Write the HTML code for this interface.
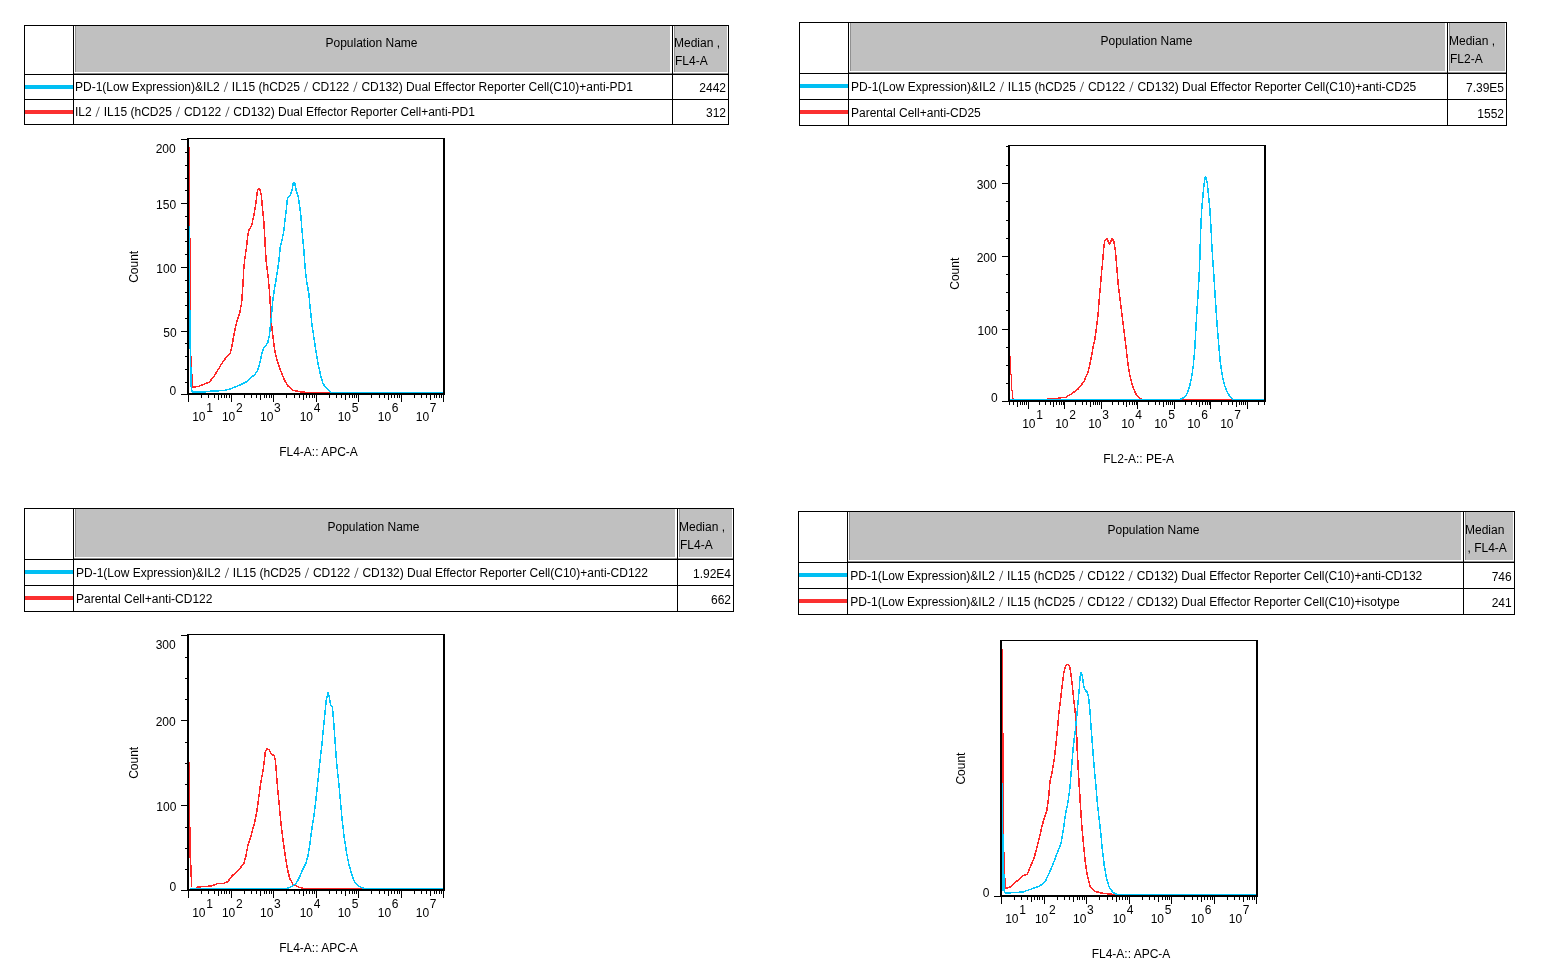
<!DOCTYPE html>
<html lang="en"><head><meta charset="utf-8"><title>Histogram overlays</title>
<style>
html,body{margin:0;padding:0;background:#fff}
body{width:1551px;height:975px;overflow:hidden}
svg{display:block;font-family:'Liberation Sans','NanumGothic',sans-serif;fill:#000}
svg text{fill:#000}
</style></head><body>
<svg width="1551" height="975" viewBox="0 0 1551 975" shape-rendering="crispEdges">
<rect x="76" y="26" width="594" height="46" fill="#c0c0c0"/>
<rect x="75" y="26" width="1" height="46" fill="#909090"/>
<rect x="675" y="26" width="52" height="46" fill="#c0c0c0"/>
<rect x="674" y="26" width="1" height="46" fill="#909090"/>
<rect x="74" y="73" width="654" height="1" fill="#8c8c8c"/>
<rect x="24" y="25" width="705" height="1" fill="#000"/>
<rect x="24" y="74" width="705" height="1" fill="#000"/>
<rect x="24" y="99" width="705" height="1" fill="#000"/>
<rect x="24" y="124" width="705" height="1" fill="#000"/>
<rect x="24" y="25" width="1" height="100" fill="#000"/>
<rect x="73" y="25" width="1" height="100" fill="#000"/>
<rect x="672" y="25" width="1" height="100" fill="#000"/>
<rect x="728" y="25" width="1" height="100" fill="#000"/>
<rect x="25" y="85" width="48" height="4" fill="#00bff3"/>
<rect x="25" y="110" width="48" height="4" fill="#fb3030"/>
<text x="371.5" y="46.8" font-size="12" text-anchor="middle">Population Name</text>
<text x="674" y="46.6" font-size="12" text-anchor="start">Median ,</text>
<text x="675" y="64.6" font-size="12" text-anchor="start">FL4-A</text>
<text x="75" y="91.1" font-size="12" text-anchor="start">PD-1(Low Expression)&amp;IL2<tspan dx="0.4" fill="#4a4a4a">／</tspan><tspan dx="0.4">IL15 (hCD25</tspan><tspan dx="0.4" fill="#4a4a4a">／</tspan><tspan dx="0.4">CD122</tspan><tspan dx="0.4" fill="#4a4a4a">／</tspan><tspan dx="0.4">CD132) Dual Effector Reporter Cell(C10)+anti-PD1</tspan></text>
<text x="75" y="116.1" font-size="12" text-anchor="start">IL2<tspan dx="0.4" fill="#4a4a4a">／</tspan><tspan dx="0.4">IL15 (hCD25</tspan><tspan dx="0.4" fill="#4a4a4a">／</tspan><tspan dx="0.4">CD122</tspan><tspan dx="0.4" fill="#4a4a4a">／</tspan><tspan dx="0.4">CD132) Dual Effector Reporter Cell+anti-PD1</tspan></text>
<text x="726" y="91.6" font-size="12" text-anchor="end">2442</text>
<text x="726" y="116.6" font-size="12" text-anchor="end">312</text>
<rect x="851" y="23" width="594" height="48" fill="#c0c0c0"/>
<rect x="850" y="23" width="1" height="48" fill="#909090"/>
<rect x="1450" y="23" width="55" height="48" fill="#c0c0c0"/>
<rect x="1449" y="23" width="1" height="48" fill="#909090"/>
<rect x="849" y="72" width="657" height="1" fill="#8c8c8c"/>
<rect x="799" y="22" width="708" height="1" fill="#000"/>
<rect x="799" y="73" width="708" height="1" fill="#000"/>
<rect x="799" y="99" width="708" height="1" fill="#000"/>
<rect x="799" y="125" width="708" height="1" fill="#000"/>
<rect x="799" y="22" width="1" height="104" fill="#000"/>
<rect x="848" y="22" width="1" height="104" fill="#000"/>
<rect x="1447" y="22" width="1" height="104" fill="#000"/>
<rect x="1506" y="22" width="1" height="104" fill="#000"/>
<rect x="800" y="84" width="48" height="4" fill="#00bff3"/>
<rect x="800" y="110" width="48" height="4" fill="#fb3030"/>
<text x="1146.5" y="44.7" font-size="12" text-anchor="middle">Population Name</text>
<text x="1449" y="44.6" font-size="12" text-anchor="start">Median ,</text>
<text x="1450" y="62.6" font-size="12" text-anchor="start">FL2-A</text>
<text x="851" y="91.2" font-size="12" text-anchor="start">PD-1(Low Expression)&amp;IL2<tspan dx="0.4" fill="#4a4a4a">／</tspan><tspan dx="0.4">IL15 (hCD25</tspan><tspan dx="0.4" fill="#4a4a4a">／</tspan><tspan dx="0.4">CD122</tspan><tspan dx="0.4" fill="#4a4a4a">／</tspan><tspan dx="0.4">CD132) Dual Effector Reporter Cell(C10)+anti-CD25</tspan></text>
<text x="851" y="117.2" font-size="12" text-anchor="start">Parental Cell+anti-CD25</text>
<text x="1504" y="91.6" font-size="12" text-anchor="end">7.39E5</text>
<text x="1504" y="117.6" font-size="12" text-anchor="end">1552</text>
<rect x="76" y="509" width="599" height="48" fill="#c0c0c0"/>
<rect x="75" y="509" width="1" height="48" fill="#909090"/>
<rect x="680" y="509" width="52" height="48" fill="#c0c0c0"/>
<rect x="679" y="509" width="1" height="48" fill="#909090"/>
<rect x="74" y="558" width="659" height="1" fill="#8c8c8c"/>
<rect x="24" y="508" width="710" height="1" fill="#000"/>
<rect x="24" y="559" width="710" height="1" fill="#000"/>
<rect x="24" y="585" width="710" height="1" fill="#000"/>
<rect x="24" y="611" width="710" height="1" fill="#000"/>
<rect x="24" y="508" width="1" height="104" fill="#000"/>
<rect x="73" y="508" width="1" height="104" fill="#000"/>
<rect x="677" y="508" width="1" height="104" fill="#000"/>
<rect x="733" y="508" width="1" height="104" fill="#000"/>
<rect x="25" y="570" width="48" height="4" fill="#00bff3"/>
<rect x="25" y="596" width="48" height="4" fill="#fb3030"/>
<text x="373.5" y="531.0" font-size="12" text-anchor="middle">Population Name</text>
<text x="679" y="531.2" font-size="12" text-anchor="start">Median ,</text>
<text x="680" y="548.7" font-size="12" text-anchor="start">FL4-A</text>
<text x="76" y="576.9" font-size="12" text-anchor="start">PD-1(Low Expression)&amp;IL2<tspan dx="0.4" fill="#4a4a4a">／</tspan><tspan dx="0.4">IL15 (hCD25</tspan><tspan dx="0.4" fill="#4a4a4a">／</tspan><tspan dx="0.4">CD122</tspan><tspan dx="0.4" fill="#4a4a4a">／</tspan><tspan dx="0.4">CD132) Dual Effector Reporter Cell(C10)+anti-CD122</tspan></text>
<text x="76" y="603.2" font-size="12" text-anchor="start">Parental Cell+anti-CD122</text>
<text x="731" y="577.9" font-size="12" text-anchor="end">1.92E4</text>
<text x="731" y="603.9" font-size="12" text-anchor="end">662</text>
<rect x="850" y="512" width="611" height="48" fill="#c0c0c0"/>
<rect x="849" y="512" width="1" height="48" fill="#909090"/>
<rect x="1466" y="512" width="47" height="48" fill="#c0c0c0"/>
<rect x="1465" y="512" width="1" height="48" fill="#909090"/>
<rect x="848" y="561" width="666" height="1" fill="#8c8c8c"/>
<rect x="798" y="511" width="717" height="1" fill="#000"/>
<rect x="798" y="562" width="717" height="1" fill="#000"/>
<rect x="798" y="588" width="717" height="1" fill="#000"/>
<rect x="798" y="614" width="717" height="1" fill="#000"/>
<rect x="798" y="511" width="1" height="104" fill="#000"/>
<rect x="847" y="511" width="1" height="104" fill="#000"/>
<rect x="1463" y="511" width="1" height="104" fill="#000"/>
<rect x="1514" y="511" width="1" height="104" fill="#000"/>
<rect x="799" y="573" width="48" height="4" fill="#00bff3"/>
<rect x="799" y="599" width="48" height="4" fill="#fb3030"/>
<text x="1153.5" y="533.7" font-size="12" text-anchor="middle">Population Name</text>
<text x="1465" y="533.5" font-size="12" text-anchor="start">Median</text>
<text x="1467.5" y="551.5" font-size="12" text-anchor="start">, FL4-A</text>
<text x="850.3" y="579.7" font-size="12" text-anchor="start">PD-1(Low Expression)&amp;IL2<tspan dx="0.4" fill="#4a4a4a">／</tspan><tspan dx="0.4">IL15 (hCD25</tspan><tspan dx="0.4" fill="#4a4a4a">／</tspan><tspan dx="0.4">CD122</tspan><tspan dx="0.4" fill="#4a4a4a">／</tspan><tspan dx="0.4">CD132) Dual Effector Reporter Cell(C10)+anti-CD132</tspan></text>
<text x="850.3" y="605.7" font-size="12" text-anchor="start">PD-1(Low Expression)&amp;IL2<tspan dx="0.4" fill="#4a4a4a">／</tspan><tspan dx="0.4">IL15 (hCD25</tspan><tspan dx="0.4" fill="#4a4a4a">／</tspan><tspan dx="0.4">CD122</tspan><tspan dx="0.4" fill="#4a4a4a">／</tspan><tspan dx="0.4">CD132) Dual Effector Reporter Cell(C10)+isotype</tspan></text>
<text x="1511.7" y="580.9" font-size="12" text-anchor="end">746</text>
<text x="1511.7" y="607.0" font-size="12" text-anchor="end">241</text>
<g shape-rendering="crispEdges">
<polyline points="189.5,147.0 189.5,238.0 190.5,238.5 190.5,356.0 191.5,356.5 191.5,367.0 192.3,387.0 198.3,386.6 203.7,384.3 209.0,382.3 213.7,377.0 217.7,370.3 221.7,363.7 225.0,359.0 230.3,353.0 231.7,347.7 233.3,338.3 235.4,327.7 237.3,319.7 239.7,313.0 241.7,302.3 243.0,283.7 243.8,268.0 245.0,257.3 246.6,246.7 247.7,236.0 248.7,230.7 251.7,225.3 253.7,216.0 255.7,204.0 257.7,189.3 259.7,188.7 261.3,194.7 262.3,206.7 263.7,220.0 264.6,233.3 265.4,249.3 266.3,262.7 267.2,270.0 268.3,278.3 269.7,294.3 270.7,311.7 271.9,327.7 273.3,339.7 275.0,351.7 277.7,362.3 281.0,371.7 284.3,379.7 287.7,385.7 293.0,390.3 299.7,391.7 308.0,392.5 443.0,392.5" fill="none" stroke="#ff2828" stroke-width="1.5" stroke-linejoin="round" stroke-linecap="butt"/>
<polyline points="189.5,226.0 189.5,349.0" fill="none" stroke="#04c6fb" stroke-width="1.5" stroke-linejoin="round" stroke-linecap="butt"/>
<polyline points="190.5,309.5 190.5,349.0 191.0,385.0 192.0,391.0 193.0,392.0 203.7,392.0 211.7,391.0 223.7,390.6 230.3,389.0 238.3,385.7 245.7,382.3 250.3,378.3 255.0,374.3 257.7,370.3 259.7,363.7 261.7,354.3 263.7,348.3 267.7,343.0 269.3,335.7 271.0,321.0 272.3,305.0 274.0,291.7 276.3,278.3 278.0,267.0 279.0,260.0 280.3,246.7 282.3,238.7 283.9,230.7 285.0,220.0 286.3,209.3 287.4,198.7 290.3,194.7 292.3,189.3 293.3,182.7 294.6,182.4 296.3,190.7 298.3,197.3 299.7,206.7 301.0,217.3 302.0,230.7 303.3,244.0 304.3,256.0 305.0,267.0 306.5,280.0 308.8,293.7 310.3,309.0 312.0,325.0 314.0,338.3 316.0,351.7 318.3,365.0 320.7,375.7 323.0,383.7 326.0,387.7 329.5,391.4 331.0,392.5 443.0,392.5" fill="none" stroke="#04c6fb" stroke-width="1.5" stroke-linejoin="round" stroke-linecap="butt"/>
<polyline points="191.5,367.0 191.5,389.5" fill="none" stroke="#04c6fb" stroke-width="1.5" stroke-linejoin="round" stroke-linecap="butt"/>
</g>
<rect x="187" y="138" width="2" height="257" fill="#000"/>
<rect x="187" y="138" width="258" height="1" fill="#000"/>
<rect x="443" y="138" width="2" height="257" fill="#000"/>
<rect x="187" y="393" width="258" height="2" fill="#000"/>
<rect x="188" y="395" width="1" height="7" fill="#000"/>
<rect x="231" y="395" width="1" height="7" fill="#000"/>
<rect x="273" y="395" width="1" height="7" fill="#000"/>
<rect x="316" y="395" width="1" height="7" fill="#000"/>
<rect x="358" y="395" width="1" height="7" fill="#000"/>
<rect x="401" y="395" width="1" height="7" fill="#000"/>
<rect x="443" y="395" width="1" height="7" fill="#000"/>
<rect x="201" y="395" width="1" height="3" fill="#000"/>
<rect x="208" y="395" width="1" height="3" fill="#000"/>
<rect x="214" y="395" width="1" height="3" fill="#000"/>
<rect x="218" y="395" width="1" height="5" fill="#000"/>
<rect x="221" y="395" width="1" height="3" fill="#000"/>
<rect x="224" y="395" width="1" height="3" fill="#000"/>
<rect x="226" y="395" width="1" height="3" fill="#000"/>
<rect x="229" y="395" width="1" height="3" fill="#000"/>
<rect x="244" y="395" width="1" height="3" fill="#000"/>
<rect x="251" y="395" width="1" height="3" fill="#000"/>
<rect x="256" y="395" width="1" height="3" fill="#000"/>
<rect x="260" y="395" width="1" height="5" fill="#000"/>
<rect x="264" y="395" width="1" height="3" fill="#000"/>
<rect x="266" y="395" width="1" height="3" fill="#000"/>
<rect x="269" y="395" width="1" height="3" fill="#000"/>
<rect x="271" y="395" width="1" height="3" fill="#000"/>
<rect x="286" y="395" width="1" height="3" fill="#000"/>
<rect x="294" y="395" width="1" height="3" fill="#000"/>
<rect x="299" y="395" width="1" height="3" fill="#000"/>
<rect x="303" y="395" width="1" height="5" fill="#000"/>
<rect x="306" y="395" width="1" height="3" fill="#000"/>
<rect x="309" y="395" width="1" height="3" fill="#000"/>
<rect x="312" y="395" width="1" height="3" fill="#000"/>
<rect x="314" y="395" width="1" height="3" fill="#000"/>
<rect x="329" y="395" width="1" height="3" fill="#000"/>
<rect x="336" y="395" width="1" height="3" fill="#000"/>
<rect x="341" y="395" width="1" height="3" fill="#000"/>
<rect x="345" y="395" width="1" height="5" fill="#000"/>
<rect x="349" y="395" width="1" height="3" fill="#000"/>
<rect x="352" y="395" width="1" height="3" fill="#000"/>
<rect x="354" y="395" width="1" height="3" fill="#000"/>
<rect x="356" y="395" width="1" height="3" fill="#000"/>
<rect x="371" y="395" width="1" height="3" fill="#000"/>
<rect x="379" y="395" width="1" height="3" fill="#000"/>
<rect x="384" y="395" width="1" height="3" fill="#000"/>
<rect x="388" y="395" width="1" height="5" fill="#000"/>
<rect x="391" y="395" width="1" height="3" fill="#000"/>
<rect x="394" y="395" width="1" height="3" fill="#000"/>
<rect x="397" y="395" width="1" height="3" fill="#000"/>
<rect x="399" y="395" width="1" height="3" fill="#000"/>
<rect x="414" y="395" width="1" height="3" fill="#000"/>
<rect x="421" y="395" width="1" height="3" fill="#000"/>
<rect x="426" y="395" width="1" height="3" fill="#000"/>
<rect x="430" y="395" width="1" height="5" fill="#000"/>
<rect x="434" y="395" width="1" height="3" fill="#000"/>
<rect x="436" y="395" width="1" height="3" fill="#000"/>
<rect x="439" y="395" width="1" height="3" fill="#000"/>
<rect x="441" y="395" width="1" height="3" fill="#000"/>
<text x="192.2" y="420.6" font-size="12" text-anchor="start">10</text>
<text x="206.2" y="411.6" font-size="12" text-anchor="start">1</text>
<text x="221.9" y="420.6" font-size="12" text-anchor="start">10</text>
<text x="235.9" y="411.6" font-size="12" text-anchor="start">2</text>
<text x="260.0" y="420.6" font-size="12" text-anchor="start">10</text>
<text x="274.0" y="411.6" font-size="12" text-anchor="start">3</text>
<text x="299.7" y="420.6" font-size="12" text-anchor="start">10</text>
<text x="313.7" y="411.6" font-size="12" text-anchor="start">4</text>
<text x="337.7" y="420.6" font-size="12" text-anchor="start">10</text>
<text x="351.7" y="411.6" font-size="12" text-anchor="start">5</text>
<text x="377.8" y="420.6" font-size="12" text-anchor="start">10</text>
<text x="391.8" y="411.6" font-size="12" text-anchor="start">6</text>
<text x="415.8" y="420.6" font-size="12" text-anchor="start">10</text>
<text x="429.8" y="411.6" font-size="12" text-anchor="start">7</text>
<rect x="181" y="394" width="6" height="1" fill="#000"/>
<rect x="185" y="382" width="2" height="1" fill="#000"/>
<rect x="185" y="369" width="2" height="1" fill="#000"/>
<rect x="185" y="356" width="2" height="1" fill="#000"/>
<rect x="185" y="343" width="2" height="1" fill="#000"/>
<rect x="181" y="331" width="6" height="1" fill="#000"/>
<rect x="185" y="318" width="2" height="1" fill="#000"/>
<rect x="185" y="305" width="2" height="1" fill="#000"/>
<rect x="185" y="292" width="2" height="1" fill="#000"/>
<rect x="185" y="280" width="2" height="1" fill="#000"/>
<rect x="181" y="267" width="6" height="1" fill="#000"/>
<rect x="185" y="254" width="2" height="1" fill="#000"/>
<rect x="185" y="241" width="2" height="1" fill="#000"/>
<rect x="185" y="229" width="2" height="1" fill="#000"/>
<rect x="185" y="216" width="2" height="1" fill="#000"/>
<rect x="181" y="203" width="6" height="1" fill="#000"/>
<rect x="185" y="190" width="2" height="1" fill="#000"/>
<rect x="185" y="178" width="2" height="1" fill="#000"/>
<rect x="185" y="165" width="2" height="1" fill="#000"/>
<rect x="185" y="152" width="2" height="1" fill="#000"/>
<rect x="181" y="139" width="6" height="1" fill="#000"/>
<text x="175.7" y="153" font-size="12" text-anchor="end">200</text>
<text x="176.1" y="209.2" font-size="12" text-anchor="end">150</text>
<text x="176.39999999999998" y="273" font-size="12" text-anchor="end">100</text>
<text x="176.7" y="336.8" font-size="12" text-anchor="end">50</text>
<text x="176.2" y="395.3" font-size="12" text-anchor="end">0</text>
<text x="0" y="0" font-size="12" text-anchor="middle" transform="translate(138.1,266.8) rotate(-90)">Count</text>
<text x="318.5" y="455.7" font-size="12" text-anchor="middle">FL4-A:: APC-A</text>
<g shape-rendering="crispEdges">
<polyline points="1010.5,356.0 1010.5,374.0 1011.5,374.5 1011.5,390.0 1012.5,390.5 1012.5,398.0 1014.0,399.5 1047.0,399.5 1048.0,398.5 1057.0,398.4 1062.0,397.5 1065.7,397.3 1069.0,395.3 1072.3,393.3 1075.7,390.7 1078.0,389.0 1080.3,386.0 1083.7,382.0 1086.3,376.0 1088.0,372.3 1089.0,368.0 1090.8,360.0 1093.1,347.0 1094.7,340.0 1096.0,331.0 1098.0,315.0 1099.6,295.0 1100.5,285.0 1101.5,273.0 1102.5,263.5 1103.6,249.7 1104.6,241.4 1106.7,238.3 1109.5,244.2 1112.2,238.3 1114.0,242.1 1115.4,251.1 1116.8,267.7 1117.5,276.0 1118.3,285.0 1119.3,293.7 1121.7,312.3 1124.0,331.0 1126.0,347.0 1127.7,361.7 1129.7,375.0 1132.0,384.3 1135.3,393.0 1138.7,397.7 1142.7,399.5 1264.0,399.5" fill="none" stroke="#ff2828" stroke-width="1.5" stroke-linejoin="round" stroke-linecap="butt"/>
<polyline points="1010.0,399.5 1179.3,399.5 1182.7,398.3 1186.0,395.7 1189.1,388.3 1191.3,379.0 1193.3,365.7 1194.7,349.7 1195.7,332.3 1196.7,315.0 1198.0,295.0 1198.6,285.0 1199.1,275.0 1199.5,267.7 1200.2,246.9 1200.8,227.5 1201.5,212.3 1202.7,198.5 1204.0,184.6 1205.4,176.3 1207.1,181.8 1208.5,195.7 1209.9,209.5 1211.0,227.5 1211.9,246.9 1213.3,267.7 1213.9,276.0 1215.1,295.0 1216.4,315.0 1217.7,332.3 1219.1,349.7 1220.4,363.0 1222.4,376.3 1224.7,385.7 1227.3,392.3 1230.7,397.7 1233.3,399.5 1264.0,399.5" fill="none" stroke="#04c6fb" stroke-width="1.5" stroke-linejoin="round" stroke-linecap="butt"/>
</g>
<rect x="1008" y="145" width="2" height="257" fill="#000"/>
<rect x="1008" y="145" width="258" height="1" fill="#000"/>
<rect x="1264" y="145" width="2" height="257" fill="#000"/>
<rect x="1008" y="400" width="258" height="2" fill="#000"/>
<rect x="1009" y="402" width="1" height="3" fill="#000"/>
<rect x="1013" y="402" width="1" height="3" fill="#000"/>
<rect x="1017" y="402" width="1" height="5" fill="#000"/>
<rect x="1020" y="402" width="1" height="3" fill="#000"/>
<rect x="1022" y="402" width="1" height="3" fill="#000"/>
<rect x="1024" y="402" width="1" height="3" fill="#000"/>
<rect x="1026" y="402" width="1" height="3" fill="#000"/>
<rect x="1028" y="402" width="1" height="7" fill="#000"/>
<rect x="1039" y="402" width="1" height="3" fill="#000"/>
<rect x="1045" y="402" width="1" height="3" fill="#000"/>
<rect x="1050" y="402" width="1" height="3" fill="#000"/>
<rect x="1053" y="402" width="1" height="5" fill="#000"/>
<rect x="1056" y="402" width="1" height="3" fill="#000"/>
<rect x="1059" y="402" width="1" height="3" fill="#000"/>
<rect x="1061" y="402" width="1" height="3" fill="#000"/>
<rect x="1063" y="402" width="1" height="3" fill="#000"/>
<rect x="1064" y="402" width="1" height="7" fill="#000"/>
<rect x="1075" y="402" width="1" height="3" fill="#000"/>
<rect x="1082" y="402" width="1" height="3" fill="#000"/>
<rect x="1086" y="402" width="1" height="3" fill="#000"/>
<rect x="1090" y="402" width="1" height="5" fill="#000"/>
<rect x="1093" y="402" width="1" height="3" fill="#000"/>
<rect x="1095" y="402" width="1" height="3" fill="#000"/>
<rect x="1097" y="402" width="1" height="3" fill="#000"/>
<rect x="1099" y="402" width="1" height="3" fill="#000"/>
<rect x="1101" y="402" width="1" height="7" fill="#000"/>
<rect x="1112" y="402" width="1" height="3" fill="#000"/>
<rect x="1118" y="402" width="1" height="3" fill="#000"/>
<rect x="1123" y="402" width="1" height="3" fill="#000"/>
<rect x="1126" y="402" width="1" height="5" fill="#000"/>
<rect x="1129" y="402" width="1" height="3" fill="#000"/>
<rect x="1132" y="402" width="1" height="3" fill="#000"/>
<rect x="1134" y="402" width="1" height="3" fill="#000"/>
<rect x="1136" y="402" width="1" height="3" fill="#000"/>
<rect x="1137" y="402" width="1" height="7" fill="#000"/>
<rect x="1148" y="402" width="1" height="3" fill="#000"/>
<rect x="1155" y="402" width="1" height="3" fill="#000"/>
<rect x="1159" y="402" width="1" height="3" fill="#000"/>
<rect x="1163" y="402" width="1" height="5" fill="#000"/>
<rect x="1166" y="402" width="1" height="3" fill="#000"/>
<rect x="1168" y="402" width="1" height="3" fill="#000"/>
<rect x="1170" y="402" width="1" height="3" fill="#000"/>
<rect x="1172" y="402" width="1" height="3" fill="#000"/>
<rect x="1174" y="402" width="1" height="7" fill="#000"/>
<rect x="1185" y="402" width="1" height="3" fill="#000"/>
<rect x="1191" y="402" width="1" height="3" fill="#000"/>
<rect x="1196" y="402" width="1" height="3" fill="#000"/>
<rect x="1199" y="402" width="1" height="5" fill="#000"/>
<rect x="1202" y="402" width="1" height="3" fill="#000"/>
<rect x="1205" y="402" width="1" height="3" fill="#000"/>
<rect x="1207" y="402" width="1" height="3" fill="#000"/>
<rect x="1209" y="402" width="1" height="3" fill="#000"/>
<rect x="1210" y="402" width="1" height="7" fill="#000"/>
<rect x="1221" y="402" width="1" height="3" fill="#000"/>
<rect x="1228" y="402" width="1" height="3" fill="#000"/>
<rect x="1232" y="402" width="1" height="3" fill="#000"/>
<rect x="1236" y="402" width="1" height="5" fill="#000"/>
<rect x="1239" y="402" width="1" height="3" fill="#000"/>
<rect x="1241" y="402" width="1" height="3" fill="#000"/>
<rect x="1243" y="402" width="1" height="3" fill="#000"/>
<rect x="1245" y="402" width="1" height="3" fill="#000"/>
<rect x="1247" y="402" width="1" height="7" fill="#000"/>
<rect x="1258" y="402" width="1" height="3" fill="#000"/>
<rect x="1264" y="402" width="1" height="3" fill="#000"/>
<text x="1022.2" y="427.6" font-size="12" text-anchor="start">10</text>
<text x="1036.2" y="418.6" font-size="12" text-anchor="start">1</text>
<text x="1055.2" y="427.6" font-size="12" text-anchor="start">10</text>
<text x="1069.2" y="418.6" font-size="12" text-anchor="start">2</text>
<text x="1088.2" y="427.6" font-size="12" text-anchor="start">10</text>
<text x="1102.2" y="418.6" font-size="12" text-anchor="start">3</text>
<text x="1121.2" y="427.6" font-size="12" text-anchor="start">10</text>
<text x="1135.2" y="418.6" font-size="12" text-anchor="start">4</text>
<text x="1154.2" y="427.6" font-size="12" text-anchor="start">10</text>
<text x="1168.2" y="418.6" font-size="12" text-anchor="start">5</text>
<text x="1187.2" y="427.6" font-size="12" text-anchor="start">10</text>
<text x="1201.2" y="418.6" font-size="12" text-anchor="start">6</text>
<text x="1220.2" y="427.6" font-size="12" text-anchor="start">10</text>
<text x="1234.2" y="418.6" font-size="12" text-anchor="start">7</text>
<rect x="1006" y="146" width="2" height="1" fill="#000"/>
<rect x="1002" y="401" width="6" height="1" fill="#000"/>
<rect x="1006" y="383" width="2" height="1" fill="#000"/>
<rect x="1006" y="365" width="2" height="1" fill="#000"/>
<rect x="1006" y="347" width="2" height="1" fill="#000"/>
<rect x="1002" y="329" width="6" height="1" fill="#000"/>
<rect x="1006" y="310" width="2" height="1" fill="#000"/>
<rect x="1006" y="292" width="2" height="1" fill="#000"/>
<rect x="1006" y="274" width="2" height="1" fill="#000"/>
<rect x="1002" y="256" width="6" height="1" fill="#000"/>
<rect x="1006" y="238" width="2" height="1" fill="#000"/>
<rect x="1006" y="220" width="2" height="1" fill="#000"/>
<rect x="1006" y="201" width="2" height="1" fill="#000"/>
<rect x="1002" y="183" width="6" height="1" fill="#000"/>
<rect x="1006" y="165" width="2" height="1" fill="#000"/>
<text x="996.7" y="189" font-size="12" text-anchor="end">300</text>
<text x="996.7" y="261.9" font-size="12" text-anchor="end">200</text>
<text x="997.6" y="334.9" font-size="12" text-anchor="end">100</text>
<text x="997.8000000000001" y="402.3" font-size="12" text-anchor="end">0</text>
<text x="0" y="0" font-size="12" text-anchor="middle" transform="translate(959.2,273.7) rotate(-90)">Count</text>
<text x="1138.6" y="462.7" font-size="12" text-anchor="middle">FL2-A:: PE-A</text>
<g shape-rendering="crispEdges">
<polyline points="189.5,762.0 189.5,858.0" fill="none" stroke="#ff2828" stroke-width="1.5" stroke-linejoin="round" stroke-linecap="butt"/>
<polyline points="190.5,826.5 190.5,858.0 191.2,875.0 191.7,887.5" fill="none" stroke="#ff2828" stroke-width="1.5" stroke-linejoin="round" stroke-linecap="butt"/>
<polyline points="196.3,887.4 202.3,886.6 211.7,886.0 217.7,883.4 223.7,883.4 227.7,881.7 232.3,875.7 238.3,870.3 243.7,863.7 245.7,857.0 247.7,846.3 251.0,835.7 254.3,823.7 257.0,810.3 259.0,795.7 261.0,781.0 263.1,770.7 264.4,760.0 265.3,751.3 267.3,748.7 269.3,750.0 271.6,754.7 274.0,755.3 275.3,760.0 275.9,766.0 277.3,785.0 279.0,802.3 280.7,821.0 283.0,839.7 285.3,855.7 287.4,869.0 289.7,878.3 293.0,884.3 298.3,887.0 303.7,888.5 443.0,888.5" fill="none" stroke="#ff2828" stroke-width="1.5" stroke-linejoin="round" stroke-linecap="butt"/>
<polyline points="189.5,888.5 286.3,888.5 291.7,886.6 295.7,883.7 299.0,878.3 302.3,870.3 305.7,863.7 307.7,857.0 309.7,845.0 311.7,830.3 313.7,817.0 315.3,805.0 316.9,790.7 318.7,773.3 320.4,757.3 322.0,744.0 323.3,729.3 324.7,716.0 326.3,700.0 328.0,692.3 329.3,697.3 330.7,705.3 332.4,707.3 333.3,717.3 334.7,736.0 336.0,754.7 336.9,766.0 338.7,782.3 340.3,799.7 342.0,818.3 344.0,835.7 346.4,851.7 348.7,863.7 351.3,873.0 354.7,882.3 358.7,886.3 364.0,888.5 443.0,888.5" fill="none" stroke="#04c6fb" stroke-width="1.5" stroke-linejoin="round" stroke-linecap="butt"/>
</g>
<rect x="187" y="634" width="2" height="257" fill="#000"/>
<rect x="187" y="634" width="258" height="1" fill="#000"/>
<rect x="443" y="634" width="2" height="257" fill="#000"/>
<rect x="187" y="889" width="258" height="2" fill="#000"/>
<rect x="188" y="891" width="1" height="7" fill="#000"/>
<rect x="231" y="891" width="1" height="7" fill="#000"/>
<rect x="273" y="891" width="1" height="7" fill="#000"/>
<rect x="316" y="891" width="1" height="7" fill="#000"/>
<rect x="358" y="891" width="1" height="7" fill="#000"/>
<rect x="401" y="891" width="1" height="7" fill="#000"/>
<rect x="443" y="891" width="1" height="7" fill="#000"/>
<rect x="201" y="891" width="1" height="3" fill="#000"/>
<rect x="208" y="891" width="1" height="3" fill="#000"/>
<rect x="214" y="891" width="1" height="3" fill="#000"/>
<rect x="218" y="891" width="1" height="5" fill="#000"/>
<rect x="221" y="891" width="1" height="3" fill="#000"/>
<rect x="224" y="891" width="1" height="3" fill="#000"/>
<rect x="226" y="891" width="1" height="3" fill="#000"/>
<rect x="229" y="891" width="1" height="3" fill="#000"/>
<rect x="244" y="891" width="1" height="3" fill="#000"/>
<rect x="251" y="891" width="1" height="3" fill="#000"/>
<rect x="256" y="891" width="1" height="3" fill="#000"/>
<rect x="260" y="891" width="1" height="5" fill="#000"/>
<rect x="264" y="891" width="1" height="3" fill="#000"/>
<rect x="266" y="891" width="1" height="3" fill="#000"/>
<rect x="269" y="891" width="1" height="3" fill="#000"/>
<rect x="271" y="891" width="1" height="3" fill="#000"/>
<rect x="286" y="891" width="1" height="3" fill="#000"/>
<rect x="294" y="891" width="1" height="3" fill="#000"/>
<rect x="299" y="891" width="1" height="3" fill="#000"/>
<rect x="303" y="891" width="1" height="5" fill="#000"/>
<rect x="306" y="891" width="1" height="3" fill="#000"/>
<rect x="309" y="891" width="1" height="3" fill="#000"/>
<rect x="312" y="891" width="1" height="3" fill="#000"/>
<rect x="314" y="891" width="1" height="3" fill="#000"/>
<rect x="329" y="891" width="1" height="3" fill="#000"/>
<rect x="336" y="891" width="1" height="3" fill="#000"/>
<rect x="341" y="891" width="1" height="3" fill="#000"/>
<rect x="345" y="891" width="1" height="5" fill="#000"/>
<rect x="349" y="891" width="1" height="3" fill="#000"/>
<rect x="352" y="891" width="1" height="3" fill="#000"/>
<rect x="354" y="891" width="1" height="3" fill="#000"/>
<rect x="356" y="891" width="1" height="3" fill="#000"/>
<rect x="371" y="891" width="1" height="3" fill="#000"/>
<rect x="379" y="891" width="1" height="3" fill="#000"/>
<rect x="384" y="891" width="1" height="3" fill="#000"/>
<rect x="388" y="891" width="1" height="5" fill="#000"/>
<rect x="391" y="891" width="1" height="3" fill="#000"/>
<rect x="394" y="891" width="1" height="3" fill="#000"/>
<rect x="397" y="891" width="1" height="3" fill="#000"/>
<rect x="399" y="891" width="1" height="3" fill="#000"/>
<rect x="414" y="891" width="1" height="3" fill="#000"/>
<rect x="421" y="891" width="1" height="3" fill="#000"/>
<rect x="426" y="891" width="1" height="3" fill="#000"/>
<rect x="430" y="891" width="1" height="5" fill="#000"/>
<rect x="434" y="891" width="1" height="3" fill="#000"/>
<rect x="436" y="891" width="1" height="3" fill="#000"/>
<rect x="439" y="891" width="1" height="3" fill="#000"/>
<rect x="441" y="891" width="1" height="3" fill="#000"/>
<text x="192.2" y="916.6" font-size="12" text-anchor="start">10</text>
<text x="206.2" y="907.6" font-size="12" text-anchor="start">1</text>
<text x="221.9" y="916.6" font-size="12" text-anchor="start">10</text>
<text x="235.9" y="907.6" font-size="12" text-anchor="start">2</text>
<text x="260.0" y="916.6" font-size="12" text-anchor="start">10</text>
<text x="274.0" y="907.6" font-size="12" text-anchor="start">3</text>
<text x="299.7" y="916.6" font-size="12" text-anchor="start">10</text>
<text x="313.7" y="907.6" font-size="12" text-anchor="start">4</text>
<text x="337.7" y="916.6" font-size="12" text-anchor="start">10</text>
<text x="351.7" y="907.6" font-size="12" text-anchor="start">5</text>
<text x="377.8" y="916.6" font-size="12" text-anchor="start">10</text>
<text x="391.8" y="907.6" font-size="12" text-anchor="start">6</text>
<text x="415.8" y="916.6" font-size="12" text-anchor="start">10</text>
<text x="429.8" y="907.6" font-size="12" text-anchor="start">7</text>
<rect x="181" y="890" width="6" height="1" fill="#000"/>
<rect x="185" y="869" width="2" height="1" fill="#000"/>
<rect x="185" y="848" width="2" height="1" fill="#000"/>
<rect x="185" y="827" width="2" height="1" fill="#000"/>
<rect x="181" y="805" width="6" height="1" fill="#000"/>
<rect x="185" y="784" width="2" height="1" fill="#000"/>
<rect x="185" y="763" width="2" height="1" fill="#000"/>
<rect x="185" y="742" width="2" height="1" fill="#000"/>
<rect x="181" y="720" width="6" height="1" fill="#000"/>
<rect x="185" y="699" width="2" height="1" fill="#000"/>
<rect x="185" y="678" width="2" height="1" fill="#000"/>
<rect x="185" y="657" width="2" height="1" fill="#000"/>
<rect x="181" y="635" width="6" height="1" fill="#000"/>
<text x="175.7" y="649" font-size="12" text-anchor="end">300</text>
<text x="175.7" y="725.8" font-size="12" text-anchor="end">200</text>
<text x="176.39999999999998" y="810.8" font-size="12" text-anchor="end">100</text>
<text x="176.2" y="891.2" font-size="12" text-anchor="end">0</text>
<text x="0" y="0" font-size="12" text-anchor="middle" transform="translate(138.1,762.8) rotate(-90)">Count</text>
<text x="318.5" y="951.7" font-size="12" text-anchor="middle">FL4-A:: APC-A</text>
<g shape-rendering="crispEdges">
<polyline points="1002.5,649.0 1002.5,834.0" fill="none" stroke="#ff2828" stroke-width="1.5" stroke-linejoin="round" stroke-linecap="butt"/>
<polyline points="1003.5,733.0 1003.5,852.0" fill="none" stroke="#ff2828" stroke-width="1.5" stroke-linejoin="round" stroke-linecap="butt"/>
<polyline points="1004.5,852.0 1004.5,873.0 1005.3,888.7 1010.7,886.7 1017.3,880.7 1023.3,875.6 1027.3,874.0 1030.7,866.0 1034.0,858.0 1036.7,848.7 1039.3,838.0 1042.0,826.0 1044.7,816.7 1046.9,810.0 1048.7,796.7 1050.0,780.7 1052.0,773.0 1054.4,758.3 1056.0,743.7 1057.6,727.7 1059.0,711.7 1060.7,698.3 1062.4,683.7 1063.7,673.0 1065.2,667.0 1066.3,665.2 1067.7,664.6 1069.0,665.2 1069.9,667.5 1070.9,674.3 1072.3,685.0 1073.6,698.3 1074.9,709.0 1076.0,721.0 1076.7,735.7 1077.3,751.7 1078.4,772.0 1079.3,787.3 1080.4,804.7 1081.6,823.3 1083.3,842.0 1085.1,860.7 1087.3,875.3 1090.0,886.0 1094.7,891.3 1102.7,893.3 1114.7,894.5 1256.0,894.5" fill="none" stroke="#ff2828" stroke-width="1.5" stroke-linejoin="round" stroke-linecap="butt"/>
<polyline points="1002.5,783.0 1002.5,891.0" fill="none" stroke="#04c6fb" stroke-width="1.5" stroke-linejoin="round" stroke-linecap="butt"/>
<polyline points="1003.5,834.0 1003.5,888.0 1004.3,891.0 1005.3,893.3 1012.0,892.7 1022.7,892.0 1030.7,889.3 1038.7,886.3 1042.7,884.0 1046.0,880.0 1050.0,871.3 1053.3,863.3 1057.3,852.7 1061.0,843.3 1063.3,830.0 1065.3,815.3 1068.0,802.0 1070.0,787.3 1071.2,772.0 1072.3,758.3 1073.6,743.7 1075.3,730.3 1076.7,717.0 1078.0,702.3 1079.3,689.0 1080.0,677.0 1081.1,672.7 1082.4,675.7 1083.7,686.3 1085.3,690.3 1087.3,692.3 1088.7,698.3 1090.0,711.7 1091.1,727.7 1092.3,743.7 1093.6,759.7 1094.6,772.0 1095.7,783.3 1097.0,799.3 1098.7,815.3 1100.7,832.7 1102.4,850.0 1104.3,866.0 1106.7,879.3 1109.3,887.3 1113.3,892.7 1117.3,894.5 1256.0,894.5" fill="none" stroke="#04c6fb" stroke-width="1.5" stroke-linejoin="round" stroke-linecap="butt"/>
<polyline points="1004.5,874.0 1004.5,892.5" fill="none" stroke="#04c6fb" stroke-width="1.5" stroke-linejoin="round" stroke-linecap="butt"/>
</g>
<rect x="1000" y="640" width="2" height="257" fill="#000"/>
<rect x="1000" y="640" width="258" height="1" fill="#000"/>
<rect x="1256" y="640" width="2" height="257" fill="#000"/>
<rect x="1000" y="895" width="258" height="2" fill="#000"/>
<rect x="1001" y="897" width="1" height="7" fill="#000"/>
<rect x="1044" y="897" width="1" height="7" fill="#000"/>
<rect x="1086" y="897" width="1" height="7" fill="#000"/>
<rect x="1129" y="897" width="1" height="7" fill="#000"/>
<rect x="1171" y="897" width="1" height="7" fill="#000"/>
<rect x="1214" y="897" width="1" height="7" fill="#000"/>
<rect x="1256" y="897" width="1" height="7" fill="#000"/>
<rect x="1014" y="897" width="1" height="3" fill="#000"/>
<rect x="1021" y="897" width="1" height="3" fill="#000"/>
<rect x="1027" y="897" width="1" height="3" fill="#000"/>
<rect x="1031" y="897" width="1" height="5" fill="#000"/>
<rect x="1034" y="897" width="1" height="3" fill="#000"/>
<rect x="1037" y="897" width="1" height="3" fill="#000"/>
<rect x="1039" y="897" width="1" height="3" fill="#000"/>
<rect x="1042" y="897" width="1" height="3" fill="#000"/>
<rect x="1057" y="897" width="1" height="3" fill="#000"/>
<rect x="1064" y="897" width="1" height="3" fill="#000"/>
<rect x="1069" y="897" width="1" height="3" fill="#000"/>
<rect x="1073" y="897" width="1" height="5" fill="#000"/>
<rect x="1077" y="897" width="1" height="3" fill="#000"/>
<rect x="1079" y="897" width="1" height="3" fill="#000"/>
<rect x="1082" y="897" width="1" height="3" fill="#000"/>
<rect x="1084" y="897" width="1" height="3" fill="#000"/>
<rect x="1099" y="897" width="1" height="3" fill="#000"/>
<rect x="1107" y="897" width="1" height="3" fill="#000"/>
<rect x="1112" y="897" width="1" height="3" fill="#000"/>
<rect x="1116" y="897" width="1" height="5" fill="#000"/>
<rect x="1119" y="897" width="1" height="3" fill="#000"/>
<rect x="1122" y="897" width="1" height="3" fill="#000"/>
<rect x="1125" y="897" width="1" height="3" fill="#000"/>
<rect x="1127" y="897" width="1" height="3" fill="#000"/>
<rect x="1142" y="897" width="1" height="3" fill="#000"/>
<rect x="1149" y="897" width="1" height="3" fill="#000"/>
<rect x="1154" y="897" width="1" height="3" fill="#000"/>
<rect x="1158" y="897" width="1" height="5" fill="#000"/>
<rect x="1162" y="897" width="1" height="3" fill="#000"/>
<rect x="1165" y="897" width="1" height="3" fill="#000"/>
<rect x="1167" y="897" width="1" height="3" fill="#000"/>
<rect x="1169" y="897" width="1" height="3" fill="#000"/>
<rect x="1184" y="897" width="1" height="3" fill="#000"/>
<rect x="1192" y="897" width="1" height="3" fill="#000"/>
<rect x="1197" y="897" width="1" height="3" fill="#000"/>
<rect x="1201" y="897" width="1" height="5" fill="#000"/>
<rect x="1204" y="897" width="1" height="3" fill="#000"/>
<rect x="1207" y="897" width="1" height="3" fill="#000"/>
<rect x="1210" y="897" width="1" height="3" fill="#000"/>
<rect x="1212" y="897" width="1" height="3" fill="#000"/>
<rect x="1227" y="897" width="1" height="3" fill="#000"/>
<rect x="1234" y="897" width="1" height="3" fill="#000"/>
<rect x="1239" y="897" width="1" height="3" fill="#000"/>
<rect x="1243" y="897" width="1" height="5" fill="#000"/>
<rect x="1247" y="897" width="1" height="3" fill="#000"/>
<rect x="1249" y="897" width="1" height="3" fill="#000"/>
<rect x="1252" y="897" width="1" height="3" fill="#000"/>
<rect x="1254" y="897" width="1" height="3" fill="#000"/>
<text x="1005.2" y="922.6" font-size="12" text-anchor="start">10</text>
<text x="1019.2" y="913.6" font-size="12" text-anchor="start">1</text>
<text x="1034.9" y="922.6" font-size="12" text-anchor="start">10</text>
<text x="1048.9" y="913.6" font-size="12" text-anchor="start">2</text>
<text x="1073.0" y="922.6" font-size="12" text-anchor="start">10</text>
<text x="1087.0" y="913.6" font-size="12" text-anchor="start">3</text>
<text x="1112.7" y="922.6" font-size="12" text-anchor="start">10</text>
<text x="1126.7" y="913.6" font-size="12" text-anchor="start">4</text>
<text x="1150.7" y="922.6" font-size="12" text-anchor="start">10</text>
<text x="1164.7" y="913.6" font-size="12" text-anchor="start">5</text>
<text x="1190.8" y="922.6" font-size="12" text-anchor="start">10</text>
<text x="1204.8" y="913.6" font-size="12" text-anchor="start">6</text>
<text x="1228.8" y="922.6" font-size="12" text-anchor="start">10</text>
<text x="1242.8" y="913.6" font-size="12" text-anchor="start">7</text>
<rect x="994" y="896" width="6" height="1" fill="#000"/>
<text x="989.4" y="897" font-size="12" text-anchor="end">0</text>
<text x="0" y="0" font-size="12" text-anchor="middle" transform="translate(965.1,768.6) rotate(-90)">Count</text>
<text x="1131" y="957.7" font-size="12" text-anchor="middle">FL4-A:: APC-A</text>
</svg>
</body></html>
